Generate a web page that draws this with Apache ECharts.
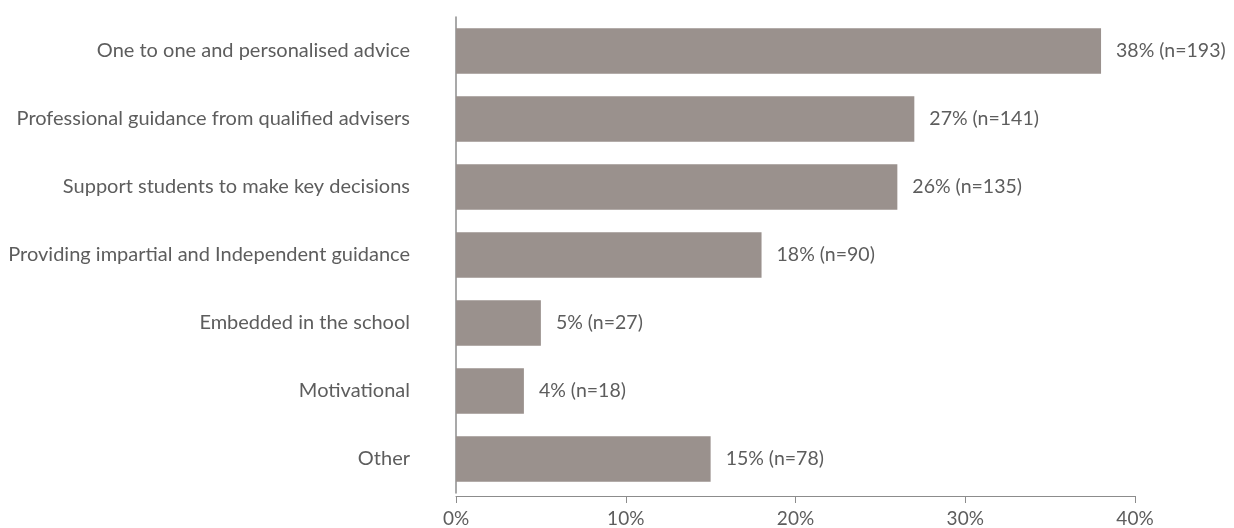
<!DOCTYPE html>
<html>
<head>
<meta charset="utf-8">
<title>Valued features of careers guidance</title>
<script src="https://cdn.jsdelivr.net/npm/echarts@6/dist/echarts.min.js"></script>
<style>
  html, body { margin: 0; padding: 0; background: #ffffff; }
  #chart { width: 1234px; height: 528px; }
</style>
</head>
<body>
<div id="chart"></div>
<script>
// Categories, top to bottom
const categories = [
  'One to one and personalised advice',
  'Professional guidance from qualified advisers',
  'Support students to make key decisions',
  'Providing impartial and Independent guidance',
  'Embedded in the school',
  'Motivational',
  'Other'
];
// Share of respondents (%) and counts
const percents = [38, 27, 26, 18, 5, 4, 15];
const counts = [193, 141, 135, 90, 27, 18, 78];
// Value axis ticks
const tickValues = [0, 10, 20, 30, 40];

const textColor = '#5d5d5d';
const fontFamily = 'Lato, "Open Sans", sans-serif';

const chart = echarts.init(document.getElementById('chart'), null, { renderer: 'canvas' });
chart.setOption({
  animation: false,
  backgroundColor: '#ffffff',
  grid: { left: 456, right: 99, top: 17, bottom: 35, containLabel: false },
  xAxis: {
    type: 'value',
    min: tickValues[0],
    max: tickValues[tickValues.length - 1],
    interval: tickValues[1] - tickValues[0],
    offset: 3,
    axisLine: { show: true, lineStyle: { color: '#8c8c8c', width: 1 } },
    axisTick: { show: true, length: 7, lineStyle: { color: '#8c8c8c' } },
    splitLine: { show: false },
    axisLabel: {
      color: textColor, fontFamily, fontSize: 19, margin: 13,
      formatter: v => v + '%'
    }
  },
  yAxis: {
    type: 'category',
    inverse: true,
    data: categories,
    axisLine: { show: true, lineStyle: { color: '#8c8c8c', width: 1.5 } },
    axisTick: { show: false },
    axisLabel: { color: textColor, fontFamily, fontSize: 20, margin: 46 }
  },
  series: [{
    type: 'bar',
    data: percents,
    barCategoryGap: '33%',
    itemStyle: { color: '#9a918d' },
    label: {
      show: true,
      position: 'right',
      distance: 15,
      color: textColor,
      fontFamily,
      fontSize: 19.5,
      formatter: p => p.value + '% (n=' + counts[p.dataIndex] + ')'
    }
  }]
});
</script>
</body>
</html>
